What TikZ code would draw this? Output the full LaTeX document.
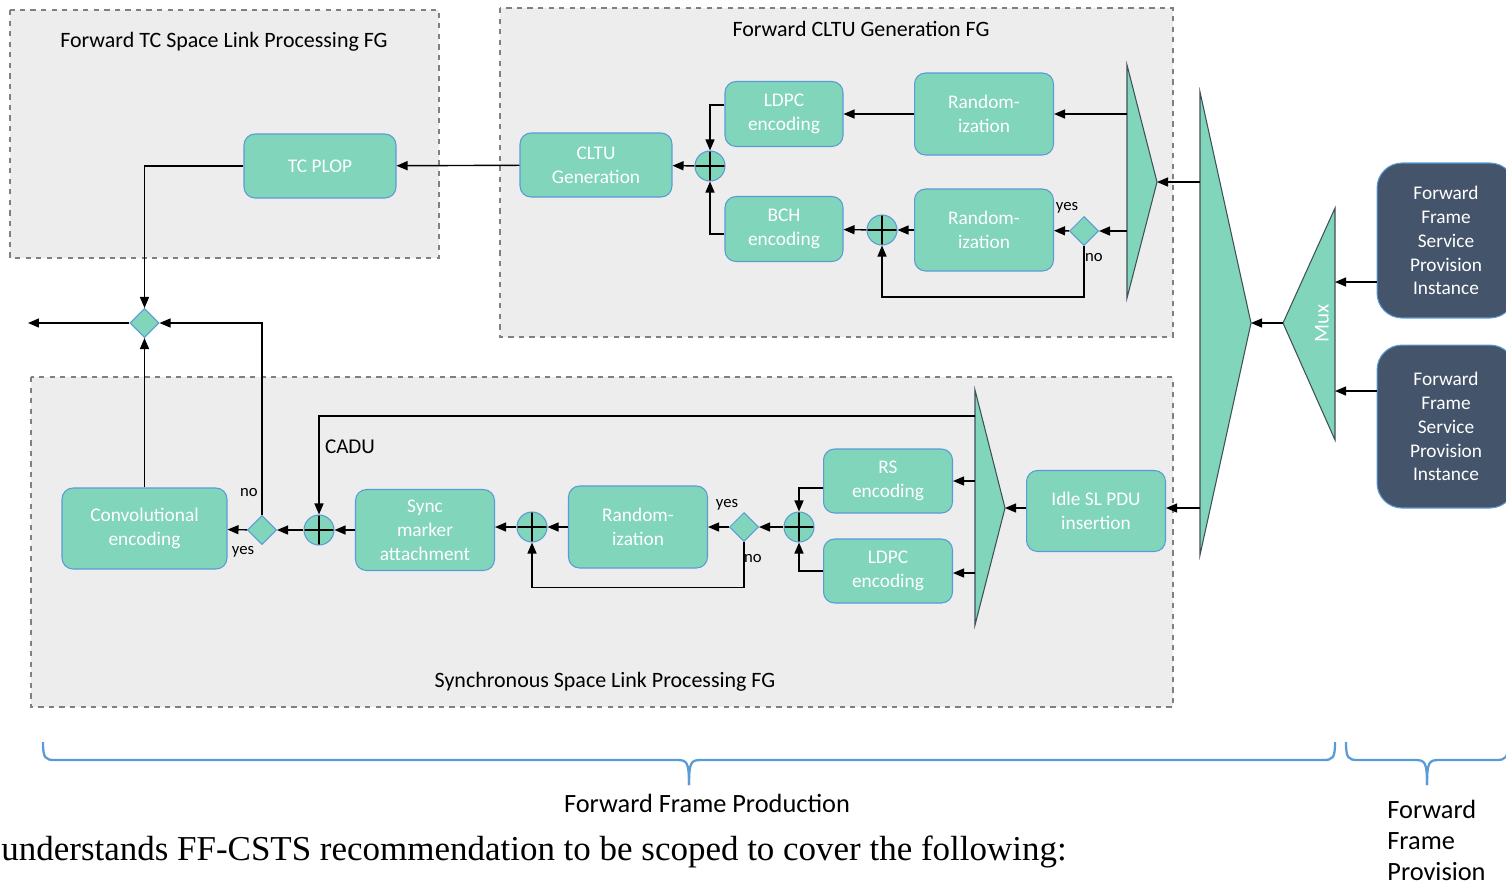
\documentclass[tikz,border=0pt]{standalone}
\usepackage{fontspec}
\setmainfont{Carlito}
\newfontfamily\seriffont{Liberation Serif}
\usepackage{tikz}
\usetikzlibrary{shapes.geometric, arrows.meta, positioning}
\definecolor{boxgreen}{RGB}{128,213,186}
\definecolor{boxline}{RGB}{91,155,213}
\definecolor{fgback}{RGB}{237,237,237}
\definecolor{fgline}{RGB}{128,128,128}
\definecolor{slate}{RGB}{68,84,106}
\definecolor{triline}{RGB}{64,80,90}
\tikzstyle{fg} = [draw=fgline, dashed, fill=fgback, line width=0.6pt]
\tikzstyle{func} = [rectangle, rounded corners=0.22cm, draw=boxline, fill=boxgreen, text=white, align=center, font=\fontsize{11}{13.6}\selectfont, line width=0.6pt]
\tikzstyle{inst} = [rectangle, rounded corners=0.5cm, draw=boxline, fill=slate, text=white, align=center, font=\fontsize{11}{13.6}\selectfont, line width=0.6pt, minimum width=2.76cm]
\tikzstyle{sum} = [circle, draw=boxline, fill=boxgreen, minimum size=0.6cm, inner sep=0pt, line width=0.6pt, path picture={\draw[black, line width=0.8pt] (path picture bounding box.north) -- (path picture bounding box.south) (path picture bounding box.west) -- (path picture bounding box.east);}]
\tikzstyle{choice} = [diamond, draw=boxline, fill=boxgreen, minimum size=0.58cm, inner sep=0pt, line width=0.6pt]
\tikzstyle{tri} = [draw=triline, fill=boxgreen, line width=0.6pt]
\tikzstyle{arrow} = [line width=0.8pt, -{Triangle[length=2.2mm,width=1.8mm]}]
\tikzstyle{lbl} = [font=\fontsize{9.5}{11}\selectfont, inner sep=0pt]
\tikzstyle{title} = [font=\fontsize{12.5}{15}\selectfont]
\tikzstyle{brace} = [draw=boxline, line width=1.3pt]

\begin{document}
\begin{tikzpicture}[x=0.02cm, y=-0.02cm]
\useasboundingbox (0,0) rectangle (1506,887);
\clip (0,0) rectangle (1506,887);

\draw[fg] (10,10) rectangle (439,258);
\draw[fg] (500,8) rectangle (1173,337);
\draw[fg] (31,377) rectangle (1173,707);
\node (tctitle) [title] at (224,42) {Forward TC Space Link Processing FG};
\node (cltutitle) [title] at (861,29) {Forward CLTU Generation FG};
\node (synctitle) [title] at (605,682) {Synchronous Space Link Processing FG};

\draw[tri] (1127,65) -- (1157,182) -- (1127,298) -- cycle;
\draw[tri] (1200,92) -- (1251,323) -- (1200,555) -- cycle;
\draw[tri] (1335,208) -- (1283,323) -- (1335,440) -- cycle;
\draw[tri] (975,390) -- (1005,508) -- (975,625) -- cycle;
\coordinate (tfapex) at (1157,182);
\coordinate (tfa) at (1127,114);
\coordinate (tfb) at (1127,231);
\coordinate (bigapex) at (1251,323);
\coordinate (biga) at (1200,182);
\coordinate (bigb) at (1200,508);
\coordinate (muxapex) at (1283,323);
\coordinate (muxa) at (1335,282);
\coordinate (muxb) at (1335,391);
\coordinate (tsapex) at (1005,508);
\coordinate (tsa) at (975,481);
\coordinate (tsb) at (975,573);
\coordinate (tscadu) at (975,416);
\coordinate (outleft) at (28,323);
\node (muxlbl) [rotate=90, text=white, font=\fontsize{12}{14}\selectfont] at (1322,323) {Mux};

\node (ff1) [inst, minimum height=3.1cm] at (1446,240.5) {Forward\\Frame\\Service\\Provision\\Instance};
\node (ff2) [inst, minimum height=3.26cm] at (1446,426.5) {Forward\\Frame\\Service\\Provision\\Instance};

\node (tcplop) [func, minimum width=3.04cm, minimum height=1.28cm] at (320,166) {TC PLOP};
\node (cltu) [func, minimum width=3.04cm, minimum height=1.28cm] at (596,165) {CLTU\\Generation};
\node (ldpcf) [func, minimum width=2.36cm, minimum height=1.3cm] at (784,114) {LDPC\\encoding};
\node (randf) [func, minimum width=2.78cm, minimum height=1.64cm] at (984,114) {Random-\\ization};
\node (bch) [func, minimum width=2.36cm, minimum height=1.3cm] at (784,229) {BCH\\encoding};
\node (randb) [func, minimum width=2.78cm, minimum height=1.64cm] at (984,230) {Random-\\ization};
\node (sumf) [sum] at (710,166) {};
\node (sumb) [sum] at (882,230) {};
\node (dcltu) [choice] at (1084,231) {};
\node (yes1) [lbl] at (1067,208) {yes};
\node (no1) [lbl] at (1094,257) {no};

\node (idle) [func, minimum width=2.78cm, minimum height=1.62cm] at (1096,511) {Idle SL PDU\\insertion};
\node (rs) [func, minimum width=2.58cm, minimum height=1.28cm] at (888,481) {RS\\encoding};
\node (ldpcs) [func, minimum width=2.58cm, minimum height=1.28cm] at (888,571) {LDPC\\encoding};
\node (sumc) [sum] at (799,527) {};
\node (dran) [choice] at (744,527) {};
\node (rands) [func, minimum width=2.78cm, minimum height=1.64cm] at (638,527) {Random-\\ization};
\node (sumr) [sum] at (532,527) {};
\node (sync) [func, minimum width=2.78cm, minimum height=1.62cm] at (425,530) {Sync\\marker\\attachment};
\node (sums) [sum] at (319,530) {};
\node (dconv) [choice] at (262,530) {};
\node (conv) [func, minimum width=3.3cm, minimum height=1.62cm] at (144.5,528.5) {Convolutional\\encoding};
\node (dout) [choice] at (144.5,323) {};
\node (yes2) [lbl] at (727,505) {yes};
\node (no2) [lbl] at (753,558) {no};
\node (no3) [lbl] at (249,492) {no};
\node (yes3) [lbl] at (243,552) {yes};
\node (cadu) [font=\fontsize{12}{14}\selectfont] at (350,447) {CADU};

\draw [arrow] (ff1.west |- muxa) -- (muxa);
\draw [arrow] (ff2.west |- muxb) -- (muxb);
\draw [arrow] (muxapex) -- (bigapex);
\draw [arrow] (biga) -- (tfapex);
\draw [arrow] (bigb) -- (idle.east |- bigb);
\draw [arrow] (tfa) -- (randf);
\draw [arrow] (tfb) -- (dcltu);
\draw [arrow] (dcltu) -- (randb);
\draw [arrow] (dcltu.south) -- ++(0,51) -| (sumb);
\draw [arrow] (randb) -- (sumb);
\draw [arrow] (sumb) -- (bch);
\draw [arrow] (randf) -- (ldpcf);
\draw [arrow] ([yshift=0.18cm]ldpcf.west) -| (sumf);
\draw [arrow] ([yshift=-0.1cm]bch.west) -| (sumf);
\draw [arrow] (sumf) -- (cltu);
\draw [arrow] (cltu) -- (tcplop);
\draw [arrow] (tcplop.west) -| (dout);
\draw [arrow] (dout) -- (outleft);
\draw [arrow] (conv) -- (dout);
\draw [arrow] (dconv.north) |- (dout);
\draw [arrow] (dconv) -- (conv);
\draw [arrow] (sums) -- (dconv);
\draw [arrow] (sync) -- (sums);
\draw [arrow] (tscadu) -| (sums);
\draw [arrow] (sumr) -- (sync.east |- sumr);
\draw [arrow] (rands) -- (sumr);
\draw [arrow] (dran) -- (rands);
\draw [arrow] (dran.south) -- ++(0,45.5) -| (sumr);
\draw [arrow] (sumc) -- (dran);
\draw [arrow] ([yshift=-0.14cm]rs.west) -| (sumc);
\draw [arrow] (ldpcs.west) -| (sumc);
\draw [arrow] (tsa) -- (rs);
\draw [arrow] (tsb) -- (ldpcs.east |- tsb);
\draw [arrow] (idle.west |- tsapex) -- (tsapex);

\draw[brace] (43,742) .. controls (43,758) and (45,760) .. (55,760) -- (677,760) .. controls (687,760) and (689,762) .. (689,785);
\draw[brace] (689,785) .. controls (689,762) and (691,760) .. (701,760) -- (1323,760) .. controls (1333,760) and (1335,758) .. (1335,742);
\draw[brace] (1346,742) .. controls (1346,758) and (1348,760) .. (1358,760) -- (1415,760) .. controls (1425,760) and (1427,762) .. (1427,785);
\draw[brace] (1427,785) .. controls (1427,762) and (1429,760) .. (1439,760) -- (1496,760) .. controls (1506,760) and (1508,758) .. (1508,742);
\node (ffprod) [font=\fontsize{15}{18}\selectfont] at (707,803) {Forward Frame Production};
\node (ffprov) [anchor=north west, inner sep=0pt, align=left, font=\fontsize{15}{17.6}\selectfont] at (1387,800) {Forward\\Frame\\Provision};
\node (note) [anchor=base east, inner sep=0pt, font=\seriffont\fontsize{19.9}{24}\selectfont] at (1067,860) {understands FF-CSTS recommendation to be scoped to cover the following:};
\end{tikzpicture}
\end{document}
